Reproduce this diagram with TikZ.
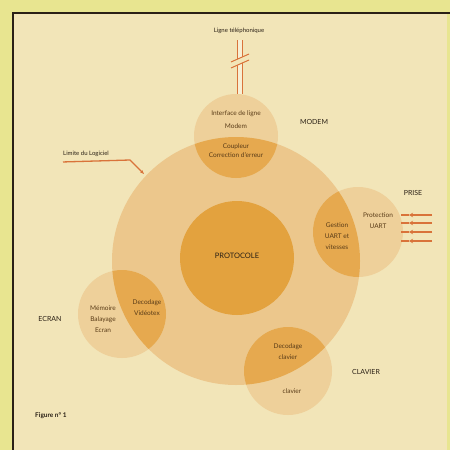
\documentclass[tikz,border=0pt]{standalone}
\usepackage{fontspec}
\setmainfont{Lato}
\usetikzlibrary{arrows.meta}
\definecolor{bgc}{HTML}{F2E5B8}
\definecolor{rim}{HTML}{E8E590}
\definecolor{lightbig}{HTML}{ECC78C}
\definecolor{lightsm}{HTML}{EED09A}
\definecolor{lens}{HTML}{E6A94F}
\definecolor{proto}{HTML}{E3A23E}
\definecolor{wire}{HTML}{D9733A}
\definecolor{ink}{HTML}{2A2015}
\definecolor{inner}{HTML}{5A3C18}
\begin{document}
\begin{tikzpicture}[x=1pt,y=-1pt,
  lab/.style={font=\fontsize{7}{8}\selectfont, text=ink, inner sep=0pt},
  inn/.style={font=\fontsize{6.5}{11}\selectfont, text=inner, align=center, inner sep=0pt},
  wireline/.style={wire, line width=1.3pt},
  arrowline/.style={wire, line width=1.3pt, -{Stealth[length=4pt,width=4.5pt]}}]
\useasboundingbox (0,0) rectangle (450,450);
\fill[rim] (0,0) rectangle (450,450);
\fill[bgc] (13,13) rectangle (447,450);
\draw[ink, line width=1.6pt] (13,450) -- (13,13) -- (450,13);

% centres
\coordinate (big) at (236,261);
\coordinate (modem) at (236,136);
\coordinate (prise) at (358,232);
\coordinate (ecran) at (122,314);
\coordinate (clav) at (288,371);
\coordinate (proto) at (237,258);

% circles
\fill[lightbig] (big) circle [radius=124pt];
\foreach \c/\r in {modem/42pt, prise/45pt, ecran/44pt, clav/44pt}
  \fill[lightsm] (\c) circle [radius=\r];
\begin{scope}
  \clip (big) circle [radius=124pt];
  \foreach \c/\r in {modem/42pt, prise/45pt, ecran/44pt, clav/44pt}
    \fill[lens] (\c) circle [radius=\r];
\end{scope}
\fill[proto] (proto) circle [radius=57pt];

% telephone line
\node[lab, font=\fontsize{6}{7}\selectfont] (ligne) at (239,31) {Ligne téléphonique};
\coordinate (wtop) at (240,40);
\coordinate (wbot) at (240,94);
\draw[wire, line width=1pt, double=bgc!60!white, double distance=3.5pt] (wtop) -- (wbot);
\fill[bgc] (231,62) -- (249,54) -- (249,60) -- (231,68) -- cycle;
\draw[wire, line width=1pt] (231,62) -- (249,54);
\draw[wire, line width=1pt] (231,68) -- (249,60);

% texts
\node[inn, font=\fontsize{6.5}{13}\selectfont] (t1) at (236,120) {Interface de ligne\\Modem};
\node[inn, font=\fontsize{6.5}{9}\selectfont] (t2) at (236,150.5) {Coupleur\\Correction d'erreur};
\node[lab] (lmodem) at (314,122) {MODEM};

\node[inn] (t3) at (378,221) {Protection\\UART};
\node[inn] (t4) at (337,236.5) {Gestion\\UART et\\vitesses};
\node[lab] (lprise) at (413,193) {PRISE};

\node[inn] (t5) at (103,319) {Mémoire\\Balayage\\Ecran};
\node[inn] (t6) at (147,308) {Decodage\\Vidéotex};
\node[lab] (lecran) at (50,319) {ECRAN};

\node[inn] (t7) at (288,352) {Decodage\\clavier};
\node[inn] (t8) at (292,391) {clavier};
\node[lab] (lclav) at (366,372) {CLAVIER};

\node[lab, font=\fontsize{7.5}{8}\selectfont] (tproto) at (237,256) {PROTOCOLE};

\node[lab, font=\fontsize{6}{7}\selectfont, anchor=west] (lim) at (63,154) {Limite du Logiciel};
\coordinate (limend) at (144,174);
\draw[wireline, -{Stealth[length=4pt,width=3pt]}] (lim.south west) ++(0,5) -- (130,160) -- (limend);

\node[lab, font=\fontsize{6.5}{7}\selectfont\bfseries, anchor=west] (fig) at (35,416) {Figure n° 1};

% prise arrows
\foreach \y in {215,223,232,241}{
  \coordinate (pa\y) at (432,\y);
  \coordinate (pm\y) at (409,\y);
  \coordinate (pb\y) at (401,\y);
  \draw[arrowline] (pa\y) -- (pm\y);
  \draw[wireline] (pm\y) -- (pb\y);
}
\end{tikzpicture}
\end{document}
